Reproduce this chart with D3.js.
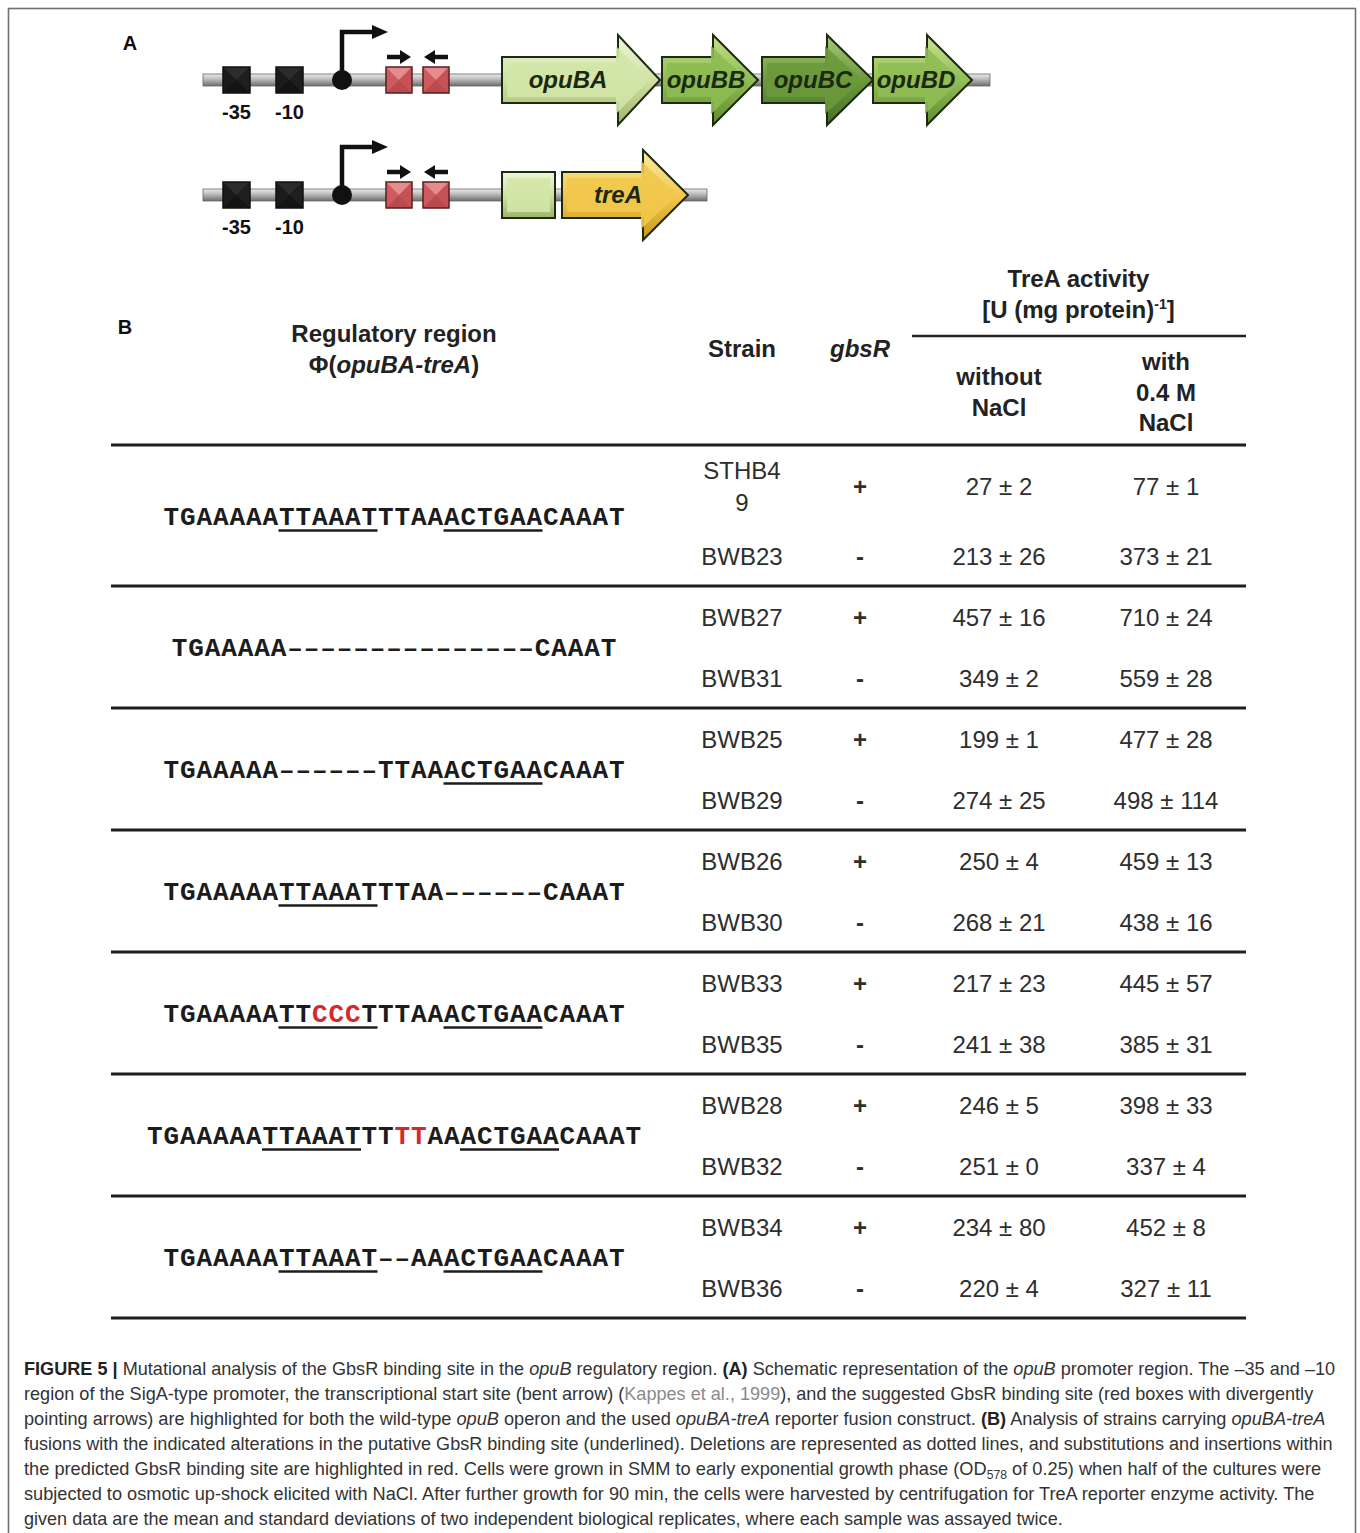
<!DOCTYPE html>
<html>
<head>
<meta charset="utf-8">
<script src="https://cdn.jsdelivr.net/npm/d3@7"></script>
<style>
  body { margin: 0; background: #fff; }
  svg { display: block; }
</style>
</head>
<body>
<script>
// ---- Table data -----------------------------------------------------------
const regionSeqs = [
  "TGAAAAATTAAATTTAAACTGAACAAAT",
  "TGAAAAA---------------CAAAT",
  "TGAAAAA------TTAAACTGAACAAAT",
  "TGAAAAATTAAATTTAA------CAAAT",
  "TGAAAAATTCCCTTTAAACTGAACAAAT",
  "TGAAAAATTAAATTTTTAAACTGAACAAAT",
  "TGAAAAATTAAAT--AAACTGAACAAAT"
];
// base indices shown in red (substitutions / insertions)
const redBases = [[], [], [], [], [9, 10, 11], [15, 16], []];
// underlined GbsR half-sites as [start, end) base index ranges
const underlined = [
  [[7, 13], [17, 23]],
  [],
  [[17, 23]],
  [[7, 13]],
  [[7, 13], [17, 23]],
  [[7, 13], [19, 25]],
  [[7, 13], [17, 23]]
];
const strains = ["STHB49", "BWB23", "BWB27", "BWB31", "BWB25", "BWB29", "BWB26",
                 "BWB30", "BWB33", "BWB35", "BWB28", "BWB32", "BWB34", "BWB36"];
const gbsR = ["+", "-", "+", "-", "+", "-", "+", "-", "+", "-", "+", "-", "+", "-"];
const withoutMean = [27, 213, 457, 349, 199, 274, 250, 268, 217, 241, 246, 251, 234, 220];
const withoutSD   = [2, 26, 16, 2, 1, 25, 4, 21, 23, 38, 5, 0, 80, 4];
const withMean    = [77, 373, 710, 559, 477, 498, 459, 438, 445, 385, 398, 337, 452, 327];
const withSD      = [1, 21, 24, 28, 28, 114, 13, 16, 57, 31, 33, 4, 8, 11];

// ---- Schematic data (panel A) --------------------------------------------
const operonGenes = ["opuBA", "opuBB", "opuBC", "opuBD"];
const fusionGenes = ["treA"];
const boxLabels = ["-35", "-10"];

// ---- Caption ----------------------------------------------------------------
const captionLines = [
  [["FIGURE 5 |", "b"], [" Mutational analysis of the GbsR binding site in the "], ["opuB", "i"], [" regulatory region. "], ["(A)", "b"], [" Schematic representation of the "], ["opuB", "i"], [" promoter region. The \u201335 and \u201310"]],
  [["region of the SigA-type promoter, the transcriptional start site (bent arrow) ("], ["Kappes et al., 1999", "g"], ["), and the suggested GbsR binding site (red boxes with divergently"]],
  [["pointing arrows) are highlighted for both the wild-type "], ["opuB", "i"], [" operon and the used "], ["opuBA-treA", "i"], [" reporter fusion construct. "], ["(B)", "b"], [" Analysis of strains carrying "], ["opuBA-treA", "i"]],
  [["fusions with the indicated alterations in the putative GbsR binding site (underlined). Deletions are represented as dotted lines, and substitutions and insertions within"]],
  [["the predicted GbsR binding site are highlighted in red. Cells were grown in SMM to early exponential growth phase (OD"], ["578", "sub"], [" of 0.25) when half of the cultures were"]],
  [["subjected to osmotic up-shock elicited with NaCl. After further growth for 90 min, the cells were harvested by centrifugation for TreA reporter enzyme activity. The"]],
  [["given data are the mean and standard deviations of two independent biological replicates, where each sample was assayed twice."]]
];
const captionRight = [1336, 1313, 1327, 1333, 1322, 1316, 1064];

// ---------------------------------------------------------------------------
const W = 1360, H = 1533;
const svg = d3.select("body").append("svg").attr("width", W).attr("height", H);
const defs = svg.append("defs");
const SANS = "'Liberation Sans', Arial, Helvetica, sans-serif";
const MONO = "'Courier New', 'Liberation Mono', monospace";

function vGrad(id, stops) {
  const g = defs.append("linearGradient").attr("id", id)
    .attr("x1", 0).attr("y1", 0).attr("x2", 0).attr("y2", 1);
  stops.forEach(([o, c]) => g.append("stop").attr("offset", o).attr("stop-color", c));
}
vGrad("gBack", [[0, "#ececec"], [0.45, "#b9b9b9"], [1, "#6c6c6c"]]);
vGrad("gBA", [[0, "#eef5d8"], [0.5, "#cfe2a3"], [1, "#9cb56a"]]);
vGrad("gBB", [[0, "#c6e08e"], [0.5, "#8ebc52"], [1, "#5e8a2e"]]);
vGrad("gBC", [[0, "#a5c878"], [0.5, "#6b9a3c"], [1, "#44702a"]]);
vGrad("gBD", [[0, "#c9e393"], [0.5, "#92be56"], [1, "#5f8c30"]]);
vGrad("gTre", [[0, "#fbeaa6"], [0.5, "#f2c94c"], [1, "#c9961e"]]);
vGrad("gBox", [[0, "#eef5d8"], [0.5, "#cfe2a3"], [1, "#9cb56a"]]);

// outer frame
svg.append("rect").attr("x", 8.5).attr("y", 8.5).attr("width", 1347).attr("height", 1560)
  .attr("fill", "none").attr("stroke", "#707070").attr("stroke-width", 1.6);

// ---- Panel A ---------------------------------------------------------------
const pA = svg.append("g");
pA.append("text").attr("x", 130).attr("y", 50).attr("text-anchor", "middle")
  .attr("font-family", SANS).attr("font-weight", "bold").attr("font-size", 20)
  .attr("fill", "#111").text("A");

// schematic x scale: one unit = one pixel of the drawing width
const sx = d3.scaleLinear().domain([0, 1000]).range([0, 1000]);

function backbone(cy, x0, x1) {
  pA.append("rect").attr("x", sx(x0)).attr("y", cy - 6).attr("width", sx(x1) - sx(x0)).attr("height", 12)
    .attr("fill", "url(#gBack)").attr("stroke", "#666").attr("stroke-width", 0.8);
}

function pyramidBox(x, y, w, h, c) {
  const g = pA.append("g");
  const cx = x + w / 2, cy = y + h / 2;
  g.append("rect").attr("x", x).attr("y", y).attr("width", w).attr("height", h).attr("fill", c.base);
  g.append("path").attr("d", `M${x},${y}L${x + w},${y}L${cx},${cy}Z`).attr("fill", c.top);
  g.append("path").attr("d", `M${x},${y + h}L${x + w},${y + h}L${cx},${cy}Z`).attr("fill", c.bottom);
  g.append("path").attr("d", `M${x + w},${y}L${x + w},${y + h}L${cx},${cy}Z`).attr("fill", c.right);
  g.append("rect").attr("x", x).attr("y", y).attr("width", w).attr("height", h)
    .attr("fill", "none").attr("stroke", c.stroke).attr("stroke-width", 1.5);
}
const blackBox = { base: "#1b1b1b", top: "#2c2c2c", bottom: "#141414", right: "#1e1e1e", stroke: "#111" };
const redBox = { base: "#cf5b5e", top: "#e58c8c", bottom: "#b94a4d", right: "#c65255", stroke: "#5a1e1e" };

function arrowPts(x0, xb, tip, cy, bh, hh) {
  return [[x0, cy - bh], [xb, cy - bh], [xb, cy - hh], [tip, cy], [xb, cy + hh], [xb, cy + bh], [x0, cy + bh]];
}
function geneArrow(x0, xb, tip, cy, grad, inner) {
  const line = d3.line();
  pA.append("path").attr("d", line(arrowPts(sx(x0), sx(xb), sx(tip), cy, 23, 45)) + "Z")
    .attr("fill", `url(#${grad})`).attr("stroke", "#1d2a12").attr("stroke-width", 2)
    .attr("stroke-linejoin", "miter");
  pA.append("path").attr("d", line(arrowPts(sx(x0) + 5, sx(xb) - 2, sx(tip) - 11, cy, 17, 34)) + "Z")
    .attr("fill", inner).attr("opacity", 0.9);
}
function geneLabel(x, cy, label) {
  pA.append("text").attr("x", sx(x)).attr("y", cy + 8).attr("text-anchor", "middle")
    .attr("font-family", SANS).attr("font-weight", "bold").attr("font-style", "italic")
    .attr("font-size", 24).attr("fill", "#1c2810").text(label);
}

function promoterParts(cy) {
  // -35 / -10 boxes with labels
  [223, 276].forEach((x, i) => {
    pyramidBox(sx(x), cy - 13, 27, 26, blackBox);
    pA.append("text").attr("x", sx(x) + 13.5).attr("y", cy + 39).attr("text-anchor", "middle")
      .attr("font-family", SANS).attr("font-weight", "bold").attr("font-size", 20)
      .attr("fill", "#111").text(boxLabels[i]);
  });
  // transcriptional start (bent arrow)
  pA.append("path").attr("d", `M${sx(342)},${cy}V${cy - 48}H${sx(374)}`)
    .attr("fill", "none").attr("stroke", "#111").attr("stroke-width", 4.5);
  pA.append("path").attr("d", `M${sx(372)},${cy - 55}L${sx(388)},${cy - 48}L${sx(372)},${cy - 41}Z`).attr("fill", "#111");
  pA.append("circle").attr("cx", sx(342)).attr("cy", cy).attr("r", 10).attr("fill", "#111");
  // GbsR half-sites with divergent arrows
  [386, 423].forEach(x => pyramidBox(sx(x), cy - 13, 26, 26, redBox));
  const ay = cy - 23;
  pA.append("path").attr("d", `M${sx(387)},${ay}H${sx(402)}`).attr("stroke", "#111").attr("stroke-width", 4.5);
  pA.append("path").attr("d", `M${sx(400)},${ay - 7}L${sx(411)},${ay}L${sx(400)},${ay + 7}Z`).attr("fill", "#111");
  pA.append("path").attr("d", `M${sx(448)},${ay}H${sx(433)}`).attr("stroke", "#111").attr("stroke-width", 4.5);
  pA.append("path").attr("d", `M${sx(435)},${ay - 7}L${sx(424)},${ay}L${sx(435)},${ay + 7}Z`).attr("fill", "#111");
}

// operon
const r1 = 80;
backbone(r1, 203, 990);
promoterParts(r1);
const operonShapes = [
  [502, 618, 660, "gBA", "#d3e5a8", 568],
  [662, 713, 758, "gBB", "#8dbb51", 706],
  [762, 827, 873, "gBC", "#6a993b", 813],
  [873, 927, 972, "gBD", "#90bd54", 916]
];
operonShapes.forEach(([a, b, c, g, inner]) => geneArrow(a, b, c, r1, g, inner));
operonShapes.forEach((s, i) => geneLabel(s[5], r1, operonGenes[i]));

// reporter fusion
const r2 = 195;
backbone(r2, 203, 707);
promoterParts(r2);
pA.append("rect").attr("x", sx(502)).attr("y", r2 - 23).attr("width", 53).attr("height", 46)
  .attr("fill", "url(#gBox)").attr("stroke", "#1d2a12").attr("stroke-width", 2);
pA.append("rect").attr("x", sx(507)).attr("y", r2 - 17).attr("width", 43).attr("height", 34)
  .attr("fill", "#d3e5a8").attr("opacity", 0.9);
geneArrow(562, 643, 688, r2, "gTre", "#f1c84c");
geneLabel(618, r2, fusionGenes[0]);

// ---- Panel B ---------------------------------------------------------------
const pB = svg.append("g");
const TXT = "#2e2e2e";
function label(x, y, str, o = {}) {
  return pB.append("text").attr("x", x).attr("y", y).attr("text-anchor", o.anchor || "middle")
    .attr("font-family", o.family || SANS).attr("font-size", o.size || 24)
    .attr("font-weight", o.weight || "normal").attr("font-style", o.style || "normal")
    .attr("fill", o.fill || TXT).text(str);
}
label(125, 334, "B", { weight: "bold", size: 20, fill: "#111" });

const col = d3.scaleOrdinal()
  .domain(["region", "strain", "gbsR", "without", "with"])
  .range([394, 742, 860, 999, 1166]);

// header
const hb = { weight: "bold", fill: "#222" };
label(col("region"), 342, "Regulatory region", hb);
const phi = label(col("region"), 373, "", hb);
phi.append("tspan").text("\u03A6(");
phi.append("tspan").attr("font-style", "italic").text("opuBA-treA");
phi.append("tspan").text(")");
label(col("strain"), 357, "Strain", hb);
label(col("gbsR"), 357, "gbsR", { ...hb, style: "italic" });
const midAct = (col("without") + col("with")) / 2 - 4;
label(midAct, 287, "TreA activity", hb);
const unit = label(midAct, 318, "", hb);
unit.append("tspan").text("[U (mg protein)");
unit.append("tspan").attr("font-size", 14).attr("dy", -9).text("-1");
unit.append("tspan").attr("dy", 9).text("]");
label(col("without"), 385, "without", hb);
label(col("without"), 416, "NaCl", hb);
label(col("with"), 370, "with", hb);
label(col("with"), 401, "0.4 M", hb);
label(col("with"), 431, "NaCl", hb);

pB.append("line").attr("x1", 912).attr("x2", 1246).attr("y1", 336).attr("y2", 336)
  .attr("stroke", "#222").attr("stroke-width", 2.6);

// group boundaries: first group is taller (wrapped strain name)
const groupY = d3.scaleLinear().domain([1, 7]).range([586, 1318]);
const groupTop = g => (g === 0 ? 445 : groupY(g));
const rules = [445].concat(d3.range(1, 8).map(groupY));
pB.selectAll("line.rule").data(rules).join("line").attr("class", "rule")
  .attr("x1", 111).attr("x2", 1246).attr("y1", d => d).attr("y2", d => d)
  .attr("stroke", "#1e1e1e").attr("stroke-width", 3);

// regulatory sequences, one fixed-pitch cell per base; deletions as dashes
const cw = 16.5;
regionSeqs.forEach((seq, g) => {
  const cy = g === 0 ? 516 : groupTop(g) + 61;
  const x0 = col("region") - seq.length * cw / 2;
  const reds = new Set(redBases[g]);
  pB.append("g").selectAll("text").data(seq.split("")).join("text")
    .attr("x", (d, i) => x0 + (i + 0.5) * cw).attr("y", cy + 8.5)
    .attr("text-anchor", "middle")
    .attr("font-family", MONO).attr("font-weight", "bold").attr("font-size", 26)
    .attr("fill", (d, i) => (reds.has(i) ? "#d42a2a" : "#1c1c1c"))
    .text(d => (d === "-" ? "\u2013" : d));
  underlined[g].forEach(([a, b]) => {
    pB.append("line").attr("x1", x0 + a * cw).attr("x2", x0 + b * cw)
      .attr("y1", cy + 14.5).attr("y2", cy + 14.5).attr("stroke", "#1c1c1c").attr("stroke-width", 2.6);
  });
});

// strain rows
strains.forEach((s, r) => {
  const g = Math.floor(r / 2), second = r % 2 === 1;
  const cy = g === 0 ? (second ? 556 : 486) : groupTop(g) + (second ? 92 : 31);
  if (g === 0 && !second) {
    label(col("strain"), 470 + 8.5, s.slice(0, 5));
    label(col("strain"), 502 + 8.5, s.slice(5));
  } else {
    label(col("strain"), cy + 8.5, s);
  }
  label(col("gbsR"), cy + 8.5, gbsR[r], { weight: "bold" });
  label(col("without"), cy + 8.5, `${withoutMean[r]} \u00B1 ${withoutSD[r]}`);
  label(col("with"), cy + 8.5, `${withMean[r]} \u00B1 ${withSD[r]}`);
});

// ---- Caption ----------------------------------------------------------------
const cap = svg.append("g");
captionLines.forEach((segs, li) => {
  const base = 1375 + li * 25;
  const t = cap.append("text").attr("x", 0).attr("y", 0)
    .attr("font-family", SANS).attr("font-size", 18).attr("fill", "#333");
  let prevSub = false;
  segs.forEach(([str, st]) => {
    const sp = t.append("tspan").text(str);
    if (st === "b") sp.attr("font-weight", "bold").attr("fill", "#222");
    if (st === "i") sp.attr("font-style", "italic");
    if (st === "g") sp.attr("fill", "#8a8a8a");
    if (st === "sub") sp.attr("font-size", 12).attr("dy", 4);
    else if (prevSub) sp.attr("dy", -4);
    prevSub = st === "sub";
  });
  const w = t.node().getComputedTextLength();
  const k = (captionRight[li] - 24) / w;
  t.attr("transform", `translate(24,${base}) scale(${k},1)`);
});
</script>
</body>
</html>
